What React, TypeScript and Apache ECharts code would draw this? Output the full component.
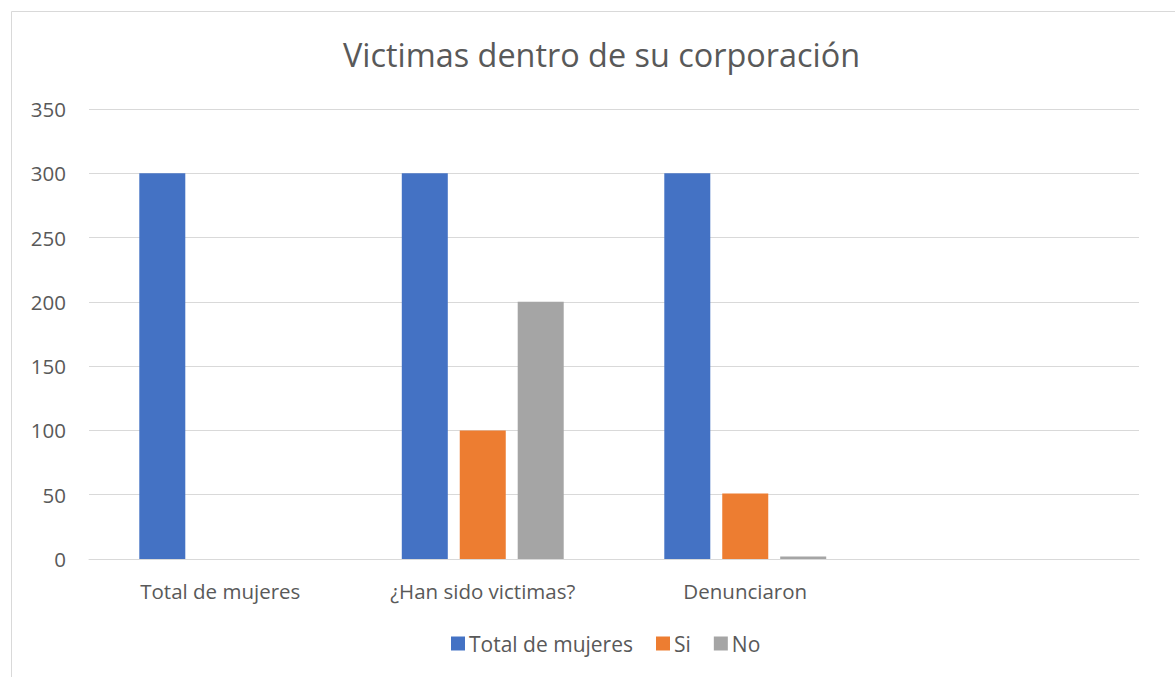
import React, { useEffect, useRef } from "react";
import * as echarts from "echarts";

const categories = ["Total de mujeres", "¿Han sido victimas?", "Denunciaron", ""];
const totalMujeres = [300, 300, 300, null];
const si = [0, 100, 51, null];
const no = [0, 200, 2, null];
const yTicks = { min: 0, max: 350, interval: 50 };

const FONT = "'Open Sans', 'Noto Sans', sans-serif";
const TEXT = "#595959";

export default function App() {
  const ref = useRef<HTMLDivElement>(null);
  useEffect(() => {
    document.body.style.margin = "0";
    const chart = echarts.init(ref.current!, null, { renderer: "svg" });
    chart.setOption({
      animation: false,
      backgroundColor: "#ffffff",
      title: {
        text: "Victimas dentro de su corporación",
        left: 338,
        top: 33,
        textStyle: { fontFamily: FONT, fontSize: 32.4, fontWeight: "normal", color: TEXT },
      },
      graphic: [
        {
          type: "rect",
          shape: { x: 11.5, y: 11.5, width: 1200, height: 700 },
          style: { fill: "none", stroke: "#d9d9d9", lineWidth: 1 },
          silent: true,
        },
      ],
      legend: {
        top: 628,
        left: 446,
        itemWidth: 14,
        itemHeight: 14,
        itemGap: 23,
        icon: "rect",
        textStyle: { fontFamily: FONT, fontSize: 21, color: TEXT, padding: [0, 0, 0, -1] },
        data: ["Total de mujeres", "Si", "No"],
      },
      grid: { left: 89, right: 36, top: 109, bottom: 118, containLabel: false },
      xAxis: {
        type: "category",
        data: categories,
        axisLine: { show: true, lineStyle: { color: "#d9d9d9", width: 1 } },
        axisTick: { show: false },
        axisLabel: { fontFamily: FONT, fontSize: 20.5, color: TEXT, margin: 21, interval: 0 },
      },
      yAxis: {
        type: "value",
        min: yTicks.min,
        max: yTicks.max,
        interval: yTicks.interval,
        axisLine: { show: false },
        axisTick: { show: false },
        splitLine: { lineStyle: { color: "#d9d9d9", width: 1 } },
        axisLabel: { fontFamily: FONT, fontSize: 20.5, color: TEXT, margin: 23 },
      },
      series: [
        { name: "Total de mujeres", type: "bar", data: totalMujeres, barWidth: 46, barGap: "26%", itemStyle: { color: "#4472C4" } },
        { name: "Si", type: "bar", data: si, barWidth: 46, barGap: "26%", itemStyle: { color: "#ED7D31" } },
        { name: "No", type: "bar", data: no, barWidth: 46, barGap: "26%", itemStyle: { color: "#A5A5A5" } },
      ],
    });
    return () => chart.dispose();
  }, []);
  return <div ref={ref} style={{ width: 1175, height: 677 }} />;
}
